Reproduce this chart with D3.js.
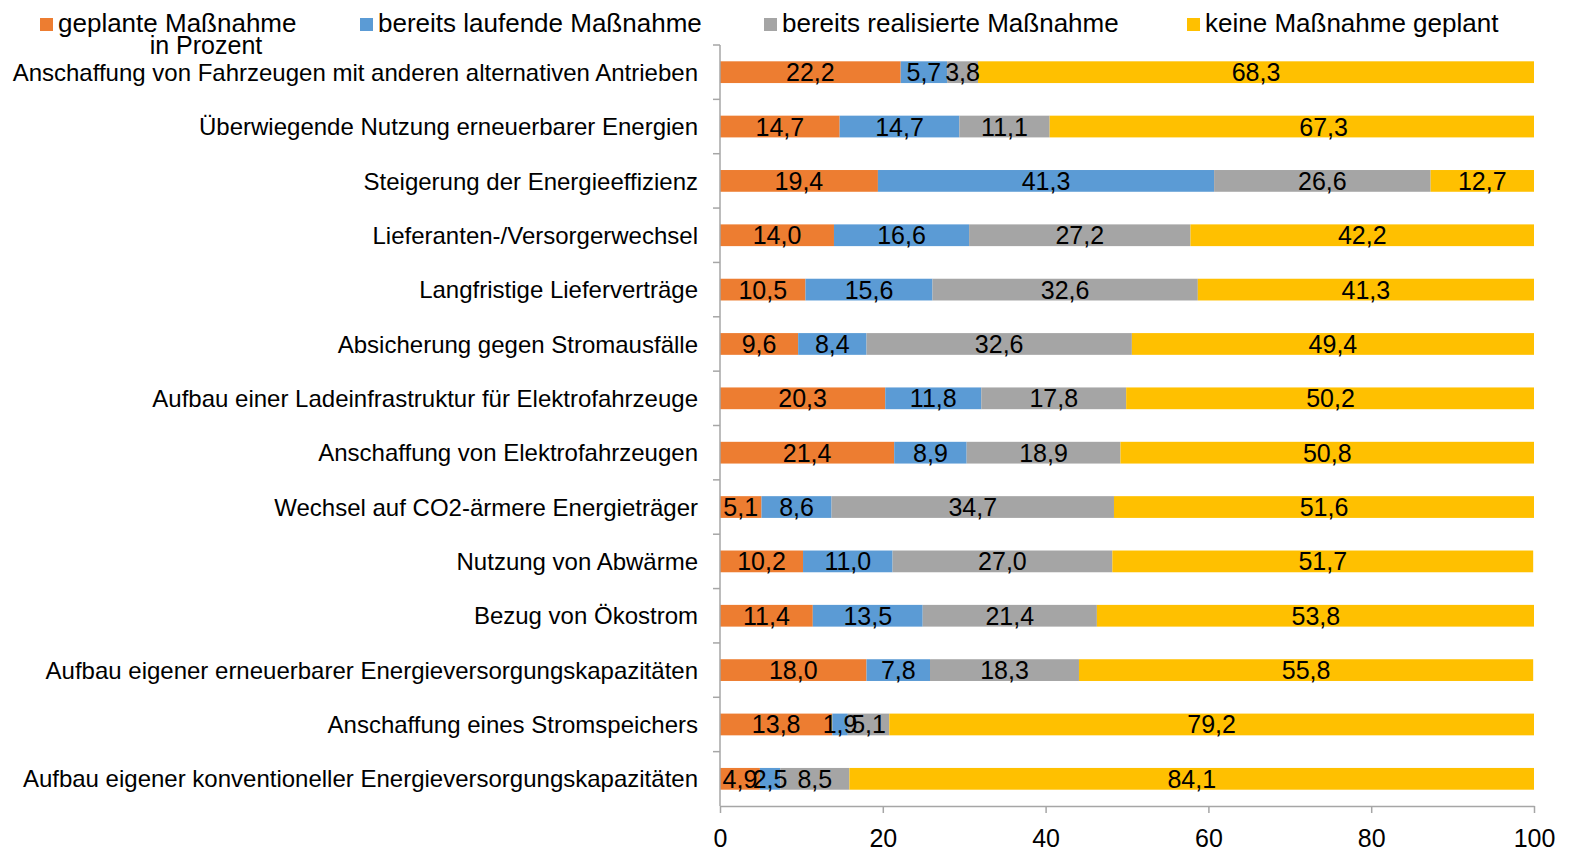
<!DOCTYPE html>
<html>
<head>
<meta charset="utf-8">
<script src="https://cdn.jsdelivr.net/npm/d3@7"></script>
<style>
  html, body { margin: 0; padding: 0; background: #fff; }
  svg { display: block; font-family: "Liberation Sans", Arial, sans-serif; }
</style>
</head>
<body>
<svg width="1591" height="848"></svg>
<script>
// categories from top to bottom
const categories = [
  'Anschaffung von Fahrzeugen mit anderen alternativen Antrieben',
  'Überwiegende Nutzung erneuerbarer Energien',
  'Steigerung der Energieeffizienz',
  'Lieferanten-/Versorgerwechsel',
  'Langfristige Lieferverträge',
  'Absicherung gegen Stromausfälle',
  'Aufbau einer Ladeinfrastruktur für Elektrofahrzeuge',
  'Anschaffung von Elektrofahrzeugen',
  'Wechsel auf CO2-ärmere Energieträger',
  'Nutzung von Abwärme',
  'Bezug von Ökostrom',
  'Aufbau eigener erneuerbarer Energieversorgungskapazitäten',
  'Anschaffung eines Stromspeichers',
  'Aufbau eigener konventioneller Energieversorgungskapazitäten'
];

const seriesNames = ['geplante Maßnahme', 'bereits laufende Maßnahme', 'bereits realisierte Maßnahme', 'keine Maßnahme geplant'];
const seriesColors = ['#ED7D31', '#5B9BD5', '#A5A5A5', '#FFC000'];

const geplant    = [22.2, 14.7, 19.4, 14.0, 10.5,  9.6, 20.3, 21.4,  5.1, 10.2, 11.4, 18.0, 13.8,  4.9];
const laufend    = [ 5.7, 14.7, 41.3, 16.6, 15.6,  8.4, 11.8,  8.9,  8.6, 11.0, 13.5,  7.8,  1.9,  2.5];
const realisiert = [ 3.8, 11.1, 26.6, 27.2, 32.6, 32.6, 17.8, 18.9, 34.7, 27.0, 21.4, 18.3,  5.1,  8.5];
const keine      = [68.3, 67.3, 12.7, 42.2, 41.3, 49.4, 50.2, 50.8, 51.6, 51.7, 53.8, 55.8, 79.2, 84.1];

const xTicks = [0, 20, 40, 60, 80, 100];
const axisTitle = 'in Prozent';

const svg = d3.select('svg');
const margin = {top: 45, right: 57, bottom: 42, left: 720};
const width = 1591 - margin.left - margin.right;
const height = 848 - margin.top - margin.bottom;

const table = categories.map((c, i) => ({
  cat: c, 0: geplant[i], 1: laufend[i], 2: realisiert[i], 3: keine[i]
}));
const stacked = d3.stack().keys([0, 1, 2, 3])(table);

// bars are cut at the plot edge, labels sit in the middle of the full segment
const x = d3.scaleLinear().domain([0, 100]).range([0, width]).clamp(true);
const xFree = d3.scaleLinear().domain([0, 100]).range([0, width]);

const yGrid = d3.scaleBand().domain(categories).range([0, height]);
const y = d3.scaleBand().domain(categories).range([0, height])
  .paddingInner(0.6).paddingOuter(0.3);

const fmt = v => d3.format('.1f')(v).replace('.', ',');
const axisColor = '#a6a6a6';

const g = svg.append('g')
  .attr('transform', `translate(${margin.left},${margin.top})`);

// bars
const series = g.selectAll('.series')
  .data(stacked)
  .enter().append('g')
    .attr('fill', d => seriesColors[d.key]);

series.selectAll('rect')
  .data(d => d)
  .enter().append('rect')
    .attr('x', d => x(d[0]))
    .attr('y', d => y(d.data.cat))
    .attr('width', d => x(d[1]) - x(d[0]))
    .attr('height', y.bandwidth());

// value labels
const labels = g.append('g')
  .attr('font-size', 25)
  .attr('fill', '#000')
  .attr('text-anchor', 'middle');

stacked.forEach(s => {
  labels.selectAll(null)
    .data(s)
    .enter().append('text')
      .attr('x', d => xFree((d[0] + d[1]) / 2))
      .attr('y', d => y(d.data.cat) + y.bandwidth() / 2)
      .attr('dy', '0.36em')
      .text(d => fmt(d[1] - d[0]));
});

// y axis: line + ticks at band boundaries
const yAxis = g.append('g').attr('stroke', axisColor).attr('stroke-width', 1.5);
yAxis.append('line')
  .attr('x1', 0).attr('x2', 0)
  .attr('y1', 0).attr('y2', height);
yAxis.selectAll('.tick')
  .data(categories.map(c => yGrid(c)))
  .enter().append('line')
    .attr('x1', -7).attr('x2', 0)
    .attr('y1', d => d).attr('y2', d => d);

// category labels
g.append('g')
  .attr('font-size', 24)
  .attr('text-anchor', 'end')
  .selectAll('text')
  .data(categories)
  .enter().append('text')
    .attr('x', -22)
    .attr('y', d => yGrid(d) + yGrid.bandwidth() / 2)
    .attr('dy', '0.36em')
    .text(d => d);

// x axis
const xAxis = g.append('g')
  .attr('transform', `translate(0,${height})`)
  .call(d3.axisBottom(xFree).tickValues(xTicks).tickSize(7).tickPadding(16).tickSizeOuter(0));
xAxis.select('.domain').attr('stroke', axisColor).attr('stroke-width', 1.5);
xAxis.selectAll('.tick line').attr('stroke', axisColor).attr('stroke-width', 1.5);
xAxis.selectAll('.tick text')
  .attr('font-size', 25)
  .attr('font-family', '"Liberation Sans", Arial, sans-serif')
  .attr('fill', '#000');

// axis title
svg.append('text')
  .attr('x', 206)
  .attr('y', 54)
  .attr('text-anchor', 'middle')
  .attr('font-size', 25)
  .text(axisTitle);

// legend
const legendX = [40, 360, 764, 1187];
const legend = svg.append('g');
seriesNames.forEach((name, i) => {
  const item = legend.append('g').attr('transform', `translate(${legendX[i]},0)`);
  item.append('rect')
    .attr('x', 0).attr('y', 18)
    .attr('width', 13).attr('height', 13)
    .attr('fill', seriesColors[i]);
  item.append('text')
    .attr('x', 18)
    .attr('y', 32)
    .attr('font-size', 26)
    .text(name);
});
</script>
</body>
</html>
